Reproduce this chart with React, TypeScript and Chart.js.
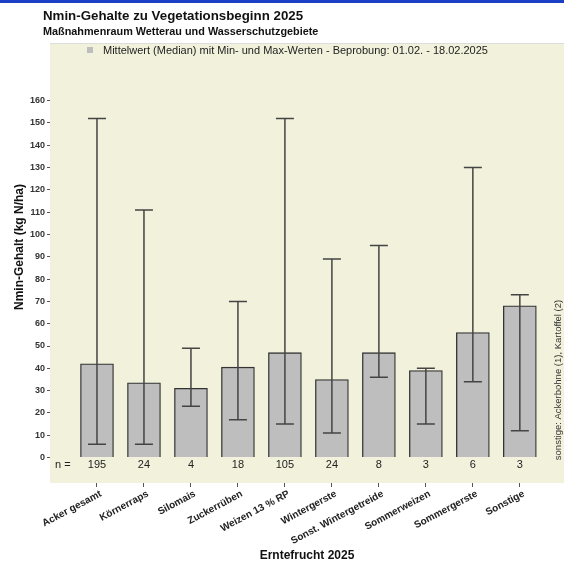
import React, { useEffect, useRef } from "react";
import { Chart, registerables } from "chart.js";

Chart.register(...registerables);

const chartTitle = "Nmin-Gehalte zu Vegetationsbeginn 2025";
const chartSubtitle = "Maßnahmenraum Wetterau und Wasserschutzgebiete";
const legendText = "Mittelwert (Median) mit Min- und Max-Werten - Beprobung: 01.02. - 18.02.2025";
const yAxisTitle = "Nmin-Gehalt (kg N/ha)";
const xAxisTitle = "Erntefrucht 2025";
const noteText = "sonstige: Ackerbohne (1), Kartoffel (2)";
const nPrefix = "n =";

const categories = [
  "Acker gesamt",
  "Körnerraps",
  "Silomais",
  "Zuckerrüben",
  "Weizen 13 % RP",
  "Wintergerste",
  "Sonst. Wintergetreide",
  "Sommerweizen",
  "Sommergerste",
  "Sonstige",
];
const medianValues = [42, 33.5, 31, 40.5, 47, 35, 47, 39, 56, 68];
const minValues = [6, 6, 23, 17, 15, 11, 36, 15, 34, 12];
const maxValues = [152, 111, 49, 70, 152, 89, 95, 40, 130, 73];
const sampleCounts = [195, 24, 4, 18, 105, 24, 8, 3, 6, 3];
const yTickValues = [0, 10, 20, 30, 40, 50, 60, 70, 80, 90, 100, 110, 120, 130, 140, 150, 160];

const FONT = "Arial, 'Liberation Sans', sans-serif";
const TEXT = "#222222";
const PANEL = "#f2f2dc";

const decorPlugin = {
  id: "decor",
  beforeDraw(chart: any) {
    const { ctx, chartArea, width, height } = chart;
    ctx.save();
    ctx.fillStyle = "#ffffff";
    ctx.fillRect(0, 0, width, height);
    ctx.fillStyle = "#1c3fc8";
    ctx.fillRect(0, 0, width, 3);
    ctx.fillStyle = PANEL;
    ctx.fillRect(chartArea.left, chartArea.top, chartArea.right - chartArea.left, chartArea.bottom - chartArea.top);
    ctx.strokeStyle = "#dddddd";
    ctx.lineWidth = 1;
    ctx.beginPath();
    ctx.moveTo(chartArea.left, chartArea.top + 0.5);
    ctx.lineTo(chartArea.right, chartArea.top + 0.5);
    ctx.stroke();

    // titles
    ctx.fillStyle = "#111111";
    ctx.textBaseline = "middle";
    ctx.textAlign = "left";
    ctx.font = `bold 13.3px ${FONT}`;
    ctx.fillText(chartTitle, 43, 16);
    ctx.font = `bold 10.85px ${FONT}`;
    ctx.fillText(chartSubtitle, 43, 32);

    // legend
    ctx.fillStyle = "#bebebe";
    ctx.fillRect(87, 47, 6, 6);
    ctx.fillStyle = TEXT;
    ctx.font = `11px ${FONT}`;
    ctx.fillText(legendText, 103, 51);
    ctx.restore();
  },
  afterDatasetsDraw(chart: any) {
    const { ctx, scales } = chart;
    const xs = scales.x;
    const ys = scales.y;
    ctx.save();
    ctx.strokeStyle = "#444444";
    ctx.lineWidth = 1.5;
    const cap = 9;
    for (let i = 0; i < categories.length; i++) {
      const x = xs.getPixelForValue(i);
      const yMin = ys.getPixelForValue(minValues[i]);
      const yMax = ys.getPixelForValue(maxValues[i]);
      ctx.beginPath();
      ctx.moveTo(x, yMin);
      ctx.lineTo(x, yMax);
      ctx.moveTo(x - cap, yMax);
      ctx.lineTo(x + cap, yMax);
      ctx.moveTo(x - cap, yMin);
      ctx.lineTo(x + cap, yMin);
      ctx.stroke();
    }
    // n labels
    const y0 = ys.getPixelForValue(0) + 7;
    ctx.fillStyle = TEXT;
    ctx.font = `11px ${FONT}`;
    ctx.textBaseline = "middle";
    ctx.textAlign = "left";
    ctx.fillText(nPrefix, 55, y0);
    ctx.textAlign = "center";
    for (let i = 0; i < categories.length; i++) {
      ctx.fillText(String(sampleCounts[i]), xs.getPixelForValue(i), y0);
    }
    // y axis title
    ctx.save();
    ctx.translate(20, 247);
    ctx.rotate(-Math.PI / 2);
    ctx.font = `bold 12px ${FONT}`;
    ctx.fillStyle = "#111111";
    ctx.textAlign = "center";
    ctx.fillText(yAxisTitle, 0, 0);
    ctx.restore();
    // note
    ctx.save();
    ctx.translate(558, 380);
    ctx.rotate(-Math.PI / 2);
    ctx.font = `9.5px ${FONT}`;
    ctx.fillStyle = "#333333";
    ctx.textAlign = "center";
    ctx.fillText(noteText, 0, 0);
    ctx.restore();
    ctx.restore();
  },
};

export default function App() {
  const canvasRef = useRef<HTMLCanvasElement | null>(null);

  useEffect(() => {
    if (!canvasRef.current) return;
    const chart = new Chart(canvasRef.current, {
      type: "bar",
      data: {
        datasets: [
          {
            label: "Median",
            data: medianValues.map((v, i) => ({ x: i, y: v })),
            backgroundColor: "#bebebe",
            borderColor: "#333333",
            borderWidth: 1.3,
            barThickness: 33,
          },
        ],
      },
      options: {
        responsive: false,
        animation: false,
        events: [],
        layout: { padding: { top: 43, left: 0, right: 0, bottom: 0 } },
        plugins: {
          legend: { display: false },
          tooltip: { enabled: false },
          title: { display: false },
        },
        scales: {
          x: {
            type: "linear",
            offset: false,
            min: -1,
            max: 9.94,
            afterBuildTicks(scale: any) {
              scale.ticks = categories.map((_, i) => ({ value: i }));
            },
            afterFit(scale: any) {
              scale.height = 79;
            },
            border: { display: false },
            grid: { offset: false, drawOnChartArea: false, drawTicks: true, tickLength: 4, color: "#555555" },
            ticks: {
              autoSkip: false,
              minRotation: 28,
              maxRotation: 28,
              padding: 1,
              labelOffset: 4,
              color: TEXT,
              font: { family: FONT, size: 10, weight: "bold" },
              callback: (value: any) => categories[value] ?? "",
            },
            title: {
              display: true,
              text: xAxisTitle,
              color: "#111111",
              font: { family: FONT, size: 12, weight: "bold", lineHeight: 1 },
              padding: { top: 0, bottom: 0 },
            },
          },
          y: {
            type: "linear",
            min: -11.4,
            max: 185.8,
            afterBuildTicks(scale: any) {
              scale.ticks = yTickValues.map((v) => ({ value: v }));
            },
            afterFit(scale: any) {
              scale.width = 50;
            },
            border: { display: false },
            grid: { drawOnChartArea: false, drawTicks: true, tickLength: 3, color: "#555555" },
            ticks: {
              padding: 2,
              color: "#333333",
              font: { family: FONT, size: 9, weight: "bold" },
            },
          },
        },
      } as any,
      plugins: [decorPlugin],
    });
    return () => chart.destroy();
  }, []);

  return (
    <div style={{ position: "fixed", left: 0, top: 0, width: 564, height: 562 }}>
      <canvas ref={canvasRef} width={564} height={562} style={{ display: "block", width: 564, height: 562 }} />
    </div>
  );
}
